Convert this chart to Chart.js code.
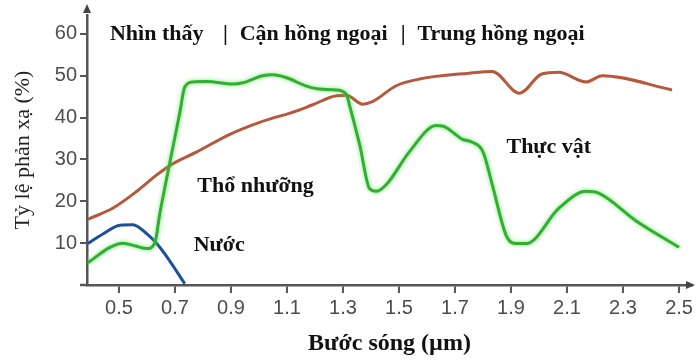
<!DOCTYPE html>
<html>
<head>
<meta charset="utf-8">
<script src="https://cdn.jsdelivr.net/npm/chart.js"></script>
<style>
  body { margin: 0; background: #fff; }
</style>
</head>
<body>
<canvas id="myChart" width="696" height="363"></canvas>
<script>
// tick values
var xTicks = [0.5, 0.7, 0.9, 1.1, 1.3, 1.5, 1.7, 1.9, 2.1, 2.3, 2.5];
var xTickLabels = ['0.5', '0.7', '0.9', '1.1', '1.3', '1.5', '1.7', '1.9', '2.1', '2.3', '2.5'];
var yTicks = [10, 20, 30, 40, 50, 60];

var seriesNames = ['Thực vật', 'Thổ nhưỡng', 'Nước'];
var regionNames = ['Nhìn thấy', 'Cận hồng ngoại', 'Trung hồng ngoại'];

// vegetation (green)
var vegX = [0.389, 0.468, 0.514, 0.56, 0.60, 0.628, 0.646, 0.675, 0.717, 0.735, 0.764, 0.814, 0.906, 0.942, 1.013, 1.049, 1.099, 1.170, 1.217, 1.277, 1.313, 1.324, 1.36, 1.395, 1.42, 1.455, 1.537, 1.633, 1.655, 1.727, 1.762, 1.80, 1.833, 1.883, 1.919, 1.955, 2.072, 2.168, 2.215, 2.347, 2.50];
var vegY = [5.3, 9.0, 10.0, 9.3, 8.7, 10.0, 17, 27, 41, 47.3, 48.5, 48.6, 48.0, 48.3, 50.0, 50.2, 49.5, 47.5, 46.8, 46.6, 45.4, 42.8, 33.4, 23, 22.4, 24, 31.8, 38.1, 38, 34.8, 34.1, 31.8, 24, 11.8, 9.9, 9.9, 18.4, 22.4, 21.9, 15.3, 9.0];

// soil (brown)
var soilX = [0.389, 0.479, 0.564, 0.635, 0.693, 0.778, 0.896, 1.0, 1.135, 1.19, 1.277, 1.313, 1.37, 1.405, 1.49, 1.573, 1.75, 1.833, 1.93, 2.01, 2.07, 2.168, 2.225, 2.475];
var soilY = [15.7, 18.4, 22.4, 26.3, 29, 31.8, 36, 38.8, 41.6, 43, 45.2, 45.3, 43.2, 43.8, 47.6, 49.2, 50.6, 51, 45.8, 50.4, 50.8, 48.5, 50, 46.6];

// water (blue)
var waterX = [0.389, 0.443, 0.504, 0.55, 0.60, 0.635, 0.68, 0.735];
var waterY = [9.9, 12.2, 14.3, 14.4, 12.2, 9.9, 5.9, 0.3];

function toPoints(xs, ys) {
  var pts = [];
  for (let i = 0; i < xs.length; i++) {
    pts.push({ x: xs[i], y: ys[i] });
  }
  return pts;
}

var glowPlugin = {
  id: 'glow',
  beforeDatasetDraw: function(chart, args) {
    chart.ctx.save();
    if (args.index == 0) {
      chart.ctx.shadowColor = 'rgba(90, 220, 90, 0.8)';
      chart.ctx.shadowBlur = 4;
    }
  },
  afterDatasetDraw: function(chart) {
    chart.ctx.restore();
  }
};

var textPlugin = {
  id: 'texts',
  afterDraw: function(chart) {
    var ctx = chart.ctx;
    var xs = chart.scales.x;
    var ys = chart.scales.y;
    var left = chart.chartArea.left;
    var bottom = chart.chartArea.bottom;
    ctx.save();

    // axis arrows
    ctx.fillStyle = '#444';
    ctx.strokeStyle = '#555';
    ctx.lineWidth = 2.5;
    ctx.beginPath();
    ctx.moveTo(80, bottom);
    ctx.lineTo(left, bottom);
    ctx.stroke();
    ctx.beginPath();
    ctx.moveTo(left, 4);
    ctx.lineTo(left - 4, 13);
    ctx.lineTo(left + 4, 13);
    ctx.closePath();
    ctx.fill();
    ctx.beginPath();
    ctx.moveTo(chart.width - 1, bottom);
    ctx.lineTo(chart.width - 10, bottom - 4);
    ctx.lineTo(chart.width - 10, bottom + 4);
    ctx.closePath();
    ctx.fill();

    // region header
    ctx.fillStyle = '#111';
    ctx.textBaseline = 'middle';
    ctx.textAlign = 'left';
    ctx.font = 'bold 22px "Liberation Serif"';
    var hy = ys.getPixelForValue(59.8);
    ctx.fillText(regionNames[0], xs.getPixelForValue(0.468), hy);
    ctx.fillText('|', xs.getPixelForValue(0.872), hy);
    ctx.fillText(regionNames[1], xs.getPixelForValue(0.931), hy);
    ctx.fillText('|', xs.getPixelForValue(1.506), hy);
    ctx.fillText(regionNames[2], xs.getPixelForValue(1.566), hy);

    // series labels
    ctx.textAlign = 'center';
    ctx.font = 'bold 22px "Liberation Serif"';
    ctx.fillText(seriesNames[0], xs.getPixelForValue(2.035), ys.getPixelForValue(32.9));
    ctx.fillText(seriesNames[1], xs.getPixelForValue(0.988), ys.getPixelForValue(23.5));
    ctx.fillText(seriesNames[2], xs.getPixelForValue(0.858), ys.getPixelForValue(9.4));
    ctx.restore();
  }
};

var ctx = document.getElementById('myChart');
var myChart = new Chart(ctx, {
  type: 'line',
  data: {
    datasets: [
      {
        label: seriesNames[0],
        data: toPoints(vegX, vegY),
        borderColor: '#2fb02f',
        borderWidth: 3
      },
      {
        label: seriesNames[1],
        data: toPoints(soilX, soilY),
        borderColor: '#b5583c',
        borderWidth: 3
      },
      {
        label: seriesNames[2],
        data: toPoints(waterX, waterY),
        borderColor: '#1c4f9c',
        borderWidth: 3
      }
    ]
  },
  options: {
    responsive: false,
    animation: false,
    devicePixelRatio: 1,
    layout: { padding: { top: 10, right: 3, left: 0, bottom: 0 } },
    elements: {
      point: { radius: 0 },
      line: { tension: 0.4, cubicInterpolationMode: 'monotone', fill: false }
    },
    plugins: {
      legend: { display: false },
      tooltip: { enabled: false }
    },
    scales: {
      x: {
        type: 'linear',
        min: 0.386,
        max: 2.546,
        afterFit: function(scale) { scale.height = 78; },
        afterBuildTicks: function(scale) {
          scale.ticks = xTicks.map(function(v) { return { value: v }; });
        },
        border: { display: true, color: '#555', width: 2.5 },
        grid: { display: true, drawOnChartArea: false, drawTicks: true, tickLength: 8, color: '#555', lineWidth: 2 },
        ticks: {
          autoSkip: false,
          maxRotation: 0,
          padding: 3,
          color: '#4d4d4d',
          font: { family: '"Liberation Sans"', size: 20 },
          callback: function(value, index) { return xTickLabels[index]; }
        },
        title: {
          display: true,
          text: 'Bước sóng (µm)',
          color: '#111',
          font: { family: '"Liberation Serif"', size: 24, weight: 'bold' },
          padding: { top: 0, bottom: 5 }
        }
      },
      y: {
        min: 0,
        max: 64.5,
        afterFit: function(scale) { scale.width = 87; },
        afterBuildTicks: function(scale) {
          scale.ticks = yTicks.map(function(v) { return { value: v }; });
        },
        border: { display: true, color: '#555', width: 2.5 },
        grid: { display: true, drawOnChartArea: false, drawTicks: true, tickLength: 7, color: '#555', lineWidth: 2 },
        ticks: {
          padding: 3,
          color: '#4d4d4d',
          font: { family: '"Liberation Sans"', size: 20 }
        },
        title: {
          display: true,
          text: 'Tỷ lệ phản xạ (%)',
          color: '#222',
          font: { family: '"Liberation Serif"', size: 22, weight: 'normal' },
          padding: { top: 10, bottom: 0 }
        }
      }
    }
  },
  plugins: [glowPlugin, textPlugin]
});
</script>
</body>
</html>
